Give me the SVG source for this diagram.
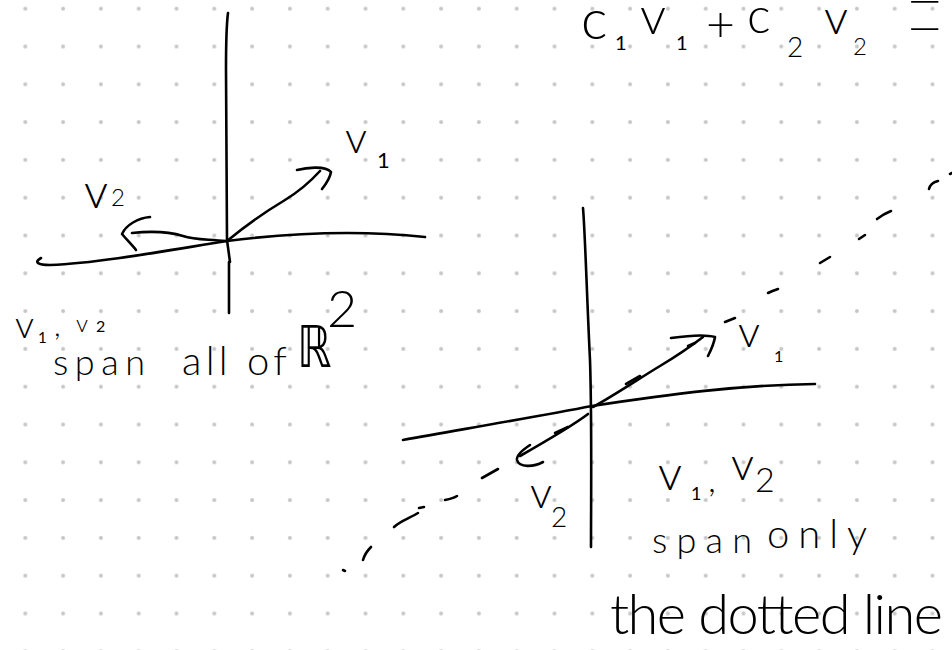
<svg xmlns="http://www.w3.org/2000/svg" width="952" height="650" viewBox="0 0 952 650">
<defs>
<pattern id="dots" x="6.4" y="-10.2" width="37.8" height="37.8" patternUnits="userSpaceOnUse">
<circle cx="18.9" cy="18.9" r="2" fill="#c6c6c6"/>
</pattern>
<style>
.ink{fill:none;stroke:#000;stroke-width:2.6;stroke-linecap:round;stroke-linejoin:round}
.hw{font-family:Lato,"Liberation Sans",sans-serif;font-weight:300;fill:#000}
.sm{font-weight:400}
.bb{font-family:"DejaVu Sans",sans-serif;font-weight:normal;fill:#000}
</style>
</defs>
<rect width="952" height="650" fill="#fff"/>
<rect width="952" height="650" fill="url(#dots)"/>

<g id="equation" transform="rotate(0.01 476 325)">
<text class="hw" x="581" y="39" font-size="56">c</text>
<text class="hw sm" x="615" y="50" font-size="20">1</text>
<text class="hw" x="640" y="34" font-size="52">v</text>
<text class="hw sm" x="676" y="50" font-size="20">1</text>
<text class="hw" x="706" y="42" font-size="50">+</text>
<text class="hw" x="747" y="33" font-size="50">c</text>
<text class="hw" x="787" y="57" font-size="28">2</text>
<text class="hw" x="824" y="34" font-size="48">v</text>
<text class="hw" x="853" y="55" font-size="24">2</text>
<text class="hw" x="0" y="0" font-size="100" style="font-weight:100" transform="translate(905,78) scale(0.68,1.85)">=</text>
</g>

<g id="left-diagram">
<path class="ink" d="M228,13 C226,28 226,45 226,70 L227,240 L230,262 M229,262 L229,313"/>
<path class="ink" d="M41,258 C34,262 37,265 50,265 C100,263 170,250 227,241 C290,233 360,230 425,237"/>
<g id="left-v1">
<path class="ink" d="M227,241 C245,226 265,212 285,200 C298,192 310,182 320,171"/>
<path class="ink" d="M297,170 C305,168 325,165 331,172 C330,178 326,184 322,189"/>
<g transform="rotate(0.01 476 325)">
<text class="hw" x="345" y="153" font-size="44">v</text>
<text class="hw sm" x="377" y="168" font-size="22">1</text>
</g>
</g>
<g id="left-v2">
<path class="ink" d="M226,241 C205,239 195,240 183,236 C170,232 150,231 132,233"/>
<path class="ink" d="M150,217 C138,218 126,225 122,234 C127,240 132,245 136,250"/>
<g transform="rotate(0.01 476 325)">
<text class="hw" x="84" y="208" font-size="48">v</text>
<text class="hw" x="111" y="206" font-size="24">2</text>
</g>
</g>
<g id="left-caption" transform="rotate(0.01 476 325)">
<text class="hw" x="15" y="338" font-size="38">v</text>
<text class="hw sm" x="38" y="343" font-size="15">1</text>
<text class="hw" x="54" y="336" font-size="30">,</text>
<text class="hw" x="76" y="332" font-size="24">v</text>
<text class="hw sm" x="96" y="332" font-size="16">2</text>
<text class="hw" x="53" y="375" font-size="36" textLength="92" lengthAdjust="spacing">span</text>
<text class="hw" x="182" y="375" font-size="40" textLength="105" lengthAdjust="spacing">all of</text>
<text class="bb" x="0" y="0" font-size="58" transform="translate(297,367) scale(0.75,1)">ℝ</text>
<text class="hw" x="327" y="327" font-size="52">2</text>
</g>
</g>

<g id="right-diagram">
<path class="ink" d="M583,208 C585,230 587,300 590,360 C592,420 591,500 591,547"/>
<path class="ink" d="M403,440 C470,428 540,416 592,406 C670,394 740,385 815,384"/>
<g id="dotted-line">
<path class="ink" d="M343,570 L345,571"/>
<path class="ink" d="M363,560 C365,553 368,550 371,547"/>
<path class="ink" d="M394,527 C400,521 410,518 418,513"/>
<path class="ink" d="M419,508 L424,507"/>
<path class="ink" d="M445,500 C450,499 454,498 457,496"/>
<path class="ink" d="M482,478 L498,469"/>
<path class="ink" d="M555,433 L568,427"/>
<path class="ink" d="M626,384 L640,376"/>
<path class="ink" d="M688,346 L695,343"/>
<path class="ink" d="M725,322 L735,318"/>
<path class="ink" d="M768,293 C772,291 775,290 778,289"/>
<path class="ink" d="M820,263 L830,257"/>
<path class="ink" d="M859,239 L865,235"/>
<path class="ink" d="M877,219 C882,215 886,213 891,211"/>
<path class="ink" d="M929,189 C930,185 934,182 938,181"/>
<path class="ink" d="M950,174 L952,173"/>
</g>
<g id="right-v1">
<path class="ink" d="M593,407 C615,395 640,378 660,366 C675,357 690,347 703,337"/>
<path class="ink" d="M671,338 C685,336 705,334 715,337 C714,344 711,350 708,356"/>
<g transform="rotate(0.01 476 325)">
<text class="hw" x="738" y="347" font-size="44">v</text>
<text class="hw sm" x="774" y="362" font-size="16">1</text>
</g>
</g>
<g id="right-v2">
<path class="ink" d="M588,414 C575,424 555,436 520,456"/>
<path class="ink" d="M530,445 C524,449 516,455 517,460 C519,468 534,467 543,462"/>
<g transform="rotate(0.01 476 325)">
<text class="hw" x="530" y="508" font-size="44">v</text>
<text class="hw" x="551" y="527" font-size="28">2</text>
</g>
</g>
<g id="right-caption" transform="rotate(0.01 476 325)">
<text class="hw" x="658" y="490" font-size="48">v</text>
<text class="hw sm" x="691" y="500" font-size="18">1</text>
<text class="hw" x="708" y="492" font-size="36">,</text>
<text class="hw" x="731" y="480" font-size="46">v</text>
<text class="hw" x="755" y="492" font-size="34">2</text>
<text class="hw" x="652" y="553" font-size="36" textLength="100" lengthAdjust="spacing">span</text>
<text class="hw" x="767" y="548" font-size="40" textLength="100" lengthAdjust="spacing">only</text>
<text class="hw" x="610" y="634" font-size="56" textLength="333" lengthAdjust="spacing">the dotted line</text>
</g>
</g>
</svg>
